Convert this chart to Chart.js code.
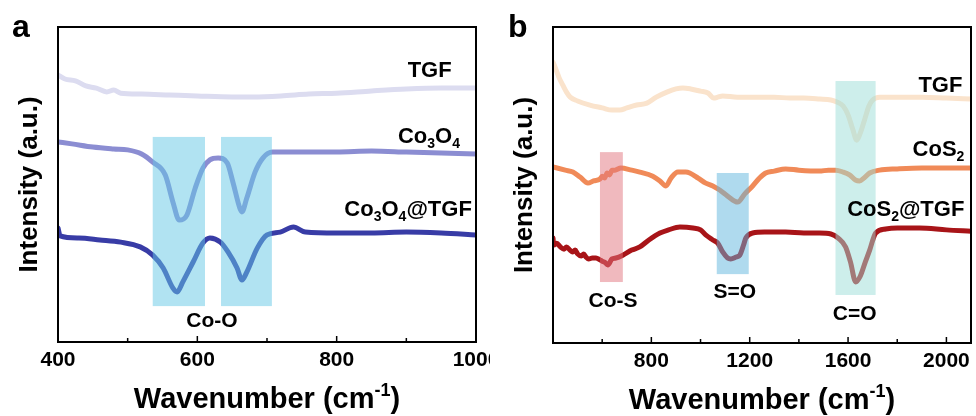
<!DOCTYPE html>
<html>
<head>
<meta charset="utf-8">
<script src="https://cdn.jsdelivr.net/npm/chart.js@4.4.1/dist/chart.umd.min.js"></script>
<style>
  html, body { margin: 0; padding: 0; background: #fff; }
  canvas { position: absolute; top: 0; }
  #chartA { left: 0; }
  #chartB { left: 490px; }
</style>
</head>
<body>
<canvas id="chartA" width="490" height="416"></canvas>
<canvas id="chartB" width="486" height="416"></canvas>
<script>
// ---- panel a: Co3O4 series (wavenumber / intensity a.u.) ----
var tgfA_wn = [400, 410, 425, 440, 455, 470, 480, 490, 520, 560, 600, 650, 680, 720, 760, 800, 850, 900, 950, 1000];
var tgfA_int = [84.8, 83.5, 82.9, 81.3, 80.6, 79.4, 80.0, 79.0, 78.7, 78.4, 78.1, 77.8, 77.8, 78.1, 78.7, 79.0, 79.7, 80.3, 80.6, 80.6];

var co3o4_wn = [400, 420, 450, 480, 500, 520, 536, 554, 565, 574, 585, 597, 608, 618, 630, 643, 651, 661, 664, 671, 683, 694, 708, 750, 800, 850, 900, 950, 1000];
var co3o4_int = [63.5, 62.9, 61.9, 61.3, 61.0, 59.7, 57.1, 53.0, 44.4, 38.7, 40.3, 48.9, 55.2, 57.8, 58.4, 56.8, 50.8, 42.5, 41.3, 45.7, 54.0, 58.4, 60.3, 60.3, 60.3, 60.6, 60.3, 60.0, 59.7];

var co3o4Tgf_wn = [400, 403, 430, 460, 490, 518, 536, 551, 565, 571, 579, 594, 608, 618, 633, 644, 657, 664, 671, 686, 700, 719, 738, 755, 800, 850, 900, 950, 1000];
var co3o4Tgf_int = [36.2, 33.7, 33.0, 32.4, 31.7, 30.2, 27.6, 23.5, 17.1, 15.9, 19.0, 25.4, 31.4, 33.0, 31.7, 28.6, 23.5, 19.7, 22.2, 29.8, 34.0, 34.9, 36.5, 34.9, 34.6, 34.6, 34.9, 34.6, 34.0];

// Co-O bands
var bandA_from = [536, 634];
var bandA_to = [611, 707];
var bandA_low = [11.4, 11.4];
var bandA_high = [65.1, 65.1];

var majorA = [400, 600, 800, 1000];
var minorA = [500, 700, 900];
var labelsA = ['400', '600', '800', '1000'];

// ---- panel b: CoS2 series ----
var tgfB_wn = [400, 410, 425, 440, 455, 470, 500, 550, 600, 640, 672, 700, 740, 782, 820, 863, 900, 928, 960, 1000, 1030, 1054, 1070, 1090, 1150, 1229, 1300, 1363, 1420, 1485, 1530, 1554, 1580, 1600, 1620, 1635, 1650, 1667, 1685, 1700, 1728, 1800, 1903, 2000, 2100];
var tgfB_int = [88.9, 87.0, 83.9, 81.6, 79.4, 77.8, 76.6, 75.3, 74.4, 73.7, 73.7, 74.4, 75.3, 75.9, 77.8, 79.4, 80.4, 80.7, 80.4, 79.7, 79.1, 77.5, 77.8, 78.2, 77.8, 77.8, 77.8, 77.5, 77.5, 77.2, 76.9, 76.3, 75.0, 72.2, 67.4, 64.2, 66.5, 70.6, 75.0, 76.9, 77.8, 77.8, 77.8, 77.5, 77.2];

var cos2_wn = [400, 450, 481, 510, 542, 565, 591, 600, 610, 620, 630, 640, 652, 676, 720, 753, 806, 835, 859, 880, 908, 940, 956, 990, 1021, 1050, 1078, 1110, 1151, 1180, 1212, 1240, 1265, 1300, 1346, 1400, 1484, 1520, 1549, 1580, 1606, 1630, 1647, 1665, 1688, 1728, 1800, 1900, 2000, 2100];
var cos2_int = [55.7, 54.7, 54.1, 52.5, 50.6, 51.3, 51.9, 52.8, 52.2, 53.8, 53.2, 54.7, 54.7, 55.4, 54.7, 54.1, 52.8, 51.3, 49.7, 52.2, 54.1, 54.1, 53.8, 52.2, 50.6, 49.7, 48.4, 46.5, 44.6, 47.2, 49.7, 52.2, 53.8, 54.4, 55.1, 54.7, 54.4, 54.7, 54.7, 54.1, 53.2, 51.6, 51.3, 52.2, 53.8, 54.7, 55.1, 55.4, 55.4, 55.4];

var cos2Tgf_wn = [400, 403, 415, 430, 445, 455, 469, 480, 490, 500, 515, 525, 534, 545, 560, 575, 591, 600, 610, 623, 640, 656, 684, 720, 753, 790, 835, 870, 916, 969, 1000, 1021, 1050, 1070, 1090, 1110, 1123, 1145, 1160, 1175, 1184, 1212, 1260, 1346, 1420, 1484, 1530, 1560, 1590, 1610, 1631, 1650, 1670, 1688, 1712, 1753, 1800, 1891, 2000, 2100];
var cos2Tgf_int = [33.2, 31.0, 31.6, 30.4, 29.7, 30.4, 29.4, 28.8, 29.4, 28.2, 27.5, 28.2, 27.2, 26.6, 26.9, 26.9, 26.3, 25.9, 25.6, 24.7, 26.6, 26.9, 27.8, 29.4, 30.4, 32.6, 34.8, 35.8, 36.7, 36.4, 35.8, 34.2, 32.6, 31.6, 28.8, 26.9, 26.6, 27.2, 27.8, 31.0, 33.2, 34.8, 35.1, 35.1, 34.8, 34.8, 34.5, 33.2, 30.4, 25.6, 19.3, 21.2, 25.6, 29.4, 34.8, 36.1, 36.4, 36.4, 35.8, 35.4];

// Co-S, S=O, C=O bands
var bandB_from = [591, 1066, 1549];
var bandB_to = [684, 1196, 1712];
var bandB_low = [19.3, 21.8, 15.2];
var bandB_high = [60.4, 53.8, 82.9];

var majorB = [800, 1200, 1600, 2000];
var minorB = [600, 1000, 1400, 1800];
var labelsB = ['800', '1200', '1600', '2000'];

var FONT = '"Liberation Sans", Arial, Helvetica, sans-serif';

function zip(xs, ys) {
    return xs.map(function (x, i) { return { x: x, y: ys[i] }; });
}

// split a formula so that digits become subscripts
function chemParts(s) {
    return s.split(/(\d+)/).filter(Boolean).map(function (t) {
        return { t: t, sub: /^\d+$/.test(t) };
    });
}

function drawParts(ctx, parts, x, y, size, align) {
    var big = 'bold ' + size + 'px ' + FONT;
    var small = 'bold ' + Math.round(size * 0.62) + 'px ' + FONT;
    var w = 0;
    parts.forEach(function (p) {
        ctx.font = (p.sub || p.sup) ? small : big;
        p.w = ctx.measureText(p.t).width;
        w += p.w;
    });
    var cx = align === 'right' ? x - w : align === 'center' ? x - w / 2 : x;
    ctx.textAlign = 'left';
    ctx.textBaseline = 'alphabetic';
    parts.forEach(function (p) {
        ctx.font = (p.sub || p.sup) ? small : big;
        var dy = p.sub ? size * 0.24 : p.sup ? -size * 0.40 : 0;
        ctx.fillText(p.t, cx, y + dy);
        cx += p.w;
    });
}

function decorPlugin(cfg) {
    return {
        id: 'decor',
        afterDatasetsDraw: function (chart) {
            var ctx = chart.ctx, a = chart.chartArea;
            var xs = chart.scales.x, ys = chart.scales.y;
            ctx.save();

            // translucent bands laid over the curves
            cfg.bandFrom.forEach(function (f, i) {
                var l = xs.getPixelForValue(f), r = xs.getPixelForValue(cfg.bandTo[i]);
                var t = ys.getPixelForValue(cfg.bandHigh[i]), b = ys.getPixelForValue(cfg.bandLow[i]);
                ctx.fillStyle = cfg.bandColors[i];
                ctx.fillRect(l, t, r - l, b - t);
            });

            // frame
            ctx.strokeStyle = '#000';
            ctx.lineWidth = 2;
            ctx.strokeRect(a.left, a.top, a.right - a.left, a.bottom - a.top);

            // inward ticks on the bottom axis
            ctx.lineWidth = 1.5;
            cfg.major.forEach(function (v) {
                var px = xs.getPixelForValue(v);
                ctx.beginPath(); ctx.moveTo(px, a.bottom); ctx.lineTo(px, a.bottom - 6); ctx.stroke();
            });
            cfg.minor.forEach(function (v) {
                var px = xs.getPixelForValue(v);
                ctx.beginPath(); ctx.moveTo(px, a.bottom); ctx.lineTo(px, a.bottom - 4); ctx.stroke();
            });

            ctx.fillStyle = '#000';
            ctx.font = 'bold 21px ' + FONT;
            ctx.textAlign = 'center';
            ctx.textBaseline = 'middle';
            cfg.major.forEach(function (v, i) {
                ctx.fillText(cfg.tickLabels[i], xs.getPixelForValue(v), a.bottom + 18);
            });

            // curve names and band names
            cfg.notes.forEach(function (n) {
                drawParts(ctx, chemParts(n.text), xs.getPixelForValue(n.x), ys.getPixelForValue(n.y), n.size, n.align);
            });

            // axis titles
            drawParts(ctx, [{ t: 'Wavenumber (cm' }, { t: '-1', sup: true }, { t: ')' }],
                (a.left + a.right) / 2, a.bottom + 66, 29, 'center');

            ctx.save();
            ctx.translate(a.left - 28, (a.top + a.bottom) / 2);
            ctx.rotate(-Math.PI / 2);
            ctx.font = 'bold 26px ' + FONT;
            ctx.textAlign = 'center';
            ctx.textBaseline = 'middle';
            ctx.fillText('Intensity (a.u.)', 0, 0);
            ctx.restore();

            // panel letter
            ctx.font = 'bold 32px ' + FONT;
            ctx.textAlign = 'left';
            ctx.textBaseline = 'alphabetic';
            ctx.fillText(cfg.letter, cfg.letterX, 37);

            ctx.restore();
        }
    };
}

function makeChart(id, cfg) {
    return new Chart(document.getElementById(id), {
        type: 'line',
        data: {
            datasets: cfg.series.map(function (s) {
                return {
                    label: s.label,
                    data: s.data,
                    borderColor: s.color,
                    borderWidth: 5,
                    borderCapStyle: 'round',
                    borderJoinStyle: 'round',
                    cubicInterpolationMode: 'monotone',
                    pointRadius: 0,
                    fill: false
                };
            })
        },
        options: {
            responsive: false,
            animation: false,
            layout: { padding: cfg.padding },
            plugins: { legend: { display: false }, tooltip: { enabled: false } },
            scales: {
                x: { type: 'linear', min: cfg.xMin, max: cfg.xMax, display: false },
                y: { type: 'linear', min: 0, max: 100, display: false }
            }
        },
        plugins: [decorPlugin(cfg)]
    });
}

var chartA = makeChart('chartA', {
    xMin: 400, xMax: 1000,
    padding: { left: 58, top: 27, right: 14, bottom: 74 },
    series: [
        { label: 'TGF', data: zip(tgfA_wn, tgfA_int), color: '#dcdcf0' },
        { label: 'Co3O4', data: zip(co3o4_wn, co3o4_int), color: '#8b8dd2' },
        { label: 'Co3O4@TGF', data: zip(co3o4Tgf_wn, co3o4Tgf_int), color: '#383ca6' }
    ],
    bandFrom: bandA_from, bandTo: bandA_to, bandLow: bandA_low, bandHigh: bandA_high,
    bandColors: ['rgba(100,200,230,0.5)', 'rgba(100,200,230,0.5)'],
    major: majorA, minor: minorA, tickLabels: labelsA,
    notes: [
        { text: 'TGF', x: 965, y: 84.1, align: 'right', size: 22 },
        { text: 'Co3O4', x: 977, y: 63.2, align: 'right', size: 22 },
        { text: 'Co3O4@TGF', x: 994, y: 40.0, align: 'right', size: 22 },
        { text: 'Co-O', x: 621, y: 4.8, align: 'center', size: 21 }
    ],
    letter: 'a', letterX: 12
});

var chartB = makeChart('chartB', {
    xMin: 400, xMax: 2100,
    padding: { left: 63, top: 27, right: 5, bottom: 73 },
    series: [
        { label: 'TGF', data: zip(tgfB_wn, tgfB_int), color: '#fae3cc' },
        { label: 'CoS2', data: zip(cos2_wn, cos2_int), color: '#f08a58' },
        { label: 'CoS2@TGF', data: zip(cos2Tgf_wn, cos2Tgf_int), color: '#a81418' }
    ],
    bandFrom: bandB_from, bandTo: bandB_to, bandLow: bandB_low, bandHigh: bandB_high,
    bandColors: ['rgba(225,115,125,0.5)', 'rgba(95,181,221,0.5)', 'rgba(155,221,215,0.5)'],
    major: majorB, minor: minorB, tickLabels: labelsB,
    notes: [
        { text: 'TGF', x: 2065, y: 79.4, align: 'right', size: 22 },
        { text: 'CoS2', x: 2073, y: 59.2, align: 'right', size: 22 },
        { text: 'CoS2@TGF', x: 2073, y: 40.2, align: 'right', size: 22 },
        { text: 'Co-S', x: 644, y: 11.4, align: 'center', size: 21 },
        { text: 'S=O', x: 1139, y: 14.2, align: 'center', size: 21 },
        { text: 'C=O', x: 1627, y: 7.3, align: 'center', size: 21 }
    ],
    letter: 'b', letterX: 18
});
</script>
</body>
</html>
